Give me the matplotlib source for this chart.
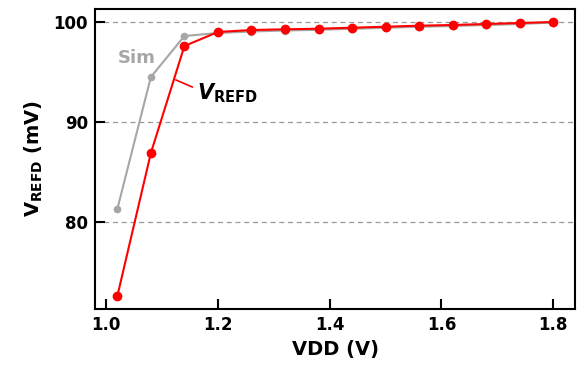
import numpy as np
import matplotlib.pyplot as plt

# data
vdd = [1.02, 1.08, 1.14, 1.20, 1.26, 1.32, 1.38, 1.44, 1.50, 1.56, 1.62, 1.68, 1.74, 1.80]
v_refd = [72.6, 86.9, 97.6, 99.0, 99.2, 99.27, 99.33, 99.43, 99.53, 99.63, 99.7, 99.8, 99.9, 100.0]
v_sim = [81.3, 94.5, 98.6, 98.9, 99.05, 99.15, 99.22, 99.32, 99.42, 99.52, 99.6, 99.7, 99.8, 99.95]

plt.rcParams['font.family'] = 'DejaVu Sans'
plt.rcParams['font.weight'] = 'bold'

fig = plt.figure(figsize=(5.81, 3.69), dpi=100)
ax = fig.add_axes([95 / 581, 1 - 309 / 369, 480 / 581, 300 / 369])

ax.plot(vdd, v_sim, color='#a6a6a6', lw=1.5, marker='o', ms=4.5, zorder=2)
ax.plot(vdd, v_refd, color='#ff0000', lw=1.5, marker='o', ms=6, zorder=3)

ax.set_xlim(0.98, 1.839)
ax.set_ylim(71.3, 101.3)
ax.set_xticks([1.0, 1.2, 1.4, 1.6, 1.8])
ax.set_yticks([80, 90, 100])
for y in [80, 90, 100]:
    ax.axhline(y, color='#999999', lw=0.9, ls=(0, (4, 3)), zorder=1)

ax.tick_params(direction='in', length=7, width=1.5, labelsize=12, pad=5)
for s in ax.spines.values():
    s.set_linewidth(1.5)

ax.set_xlabel('VDD (V)', fontsize=14, fontweight='bold', labelpad=4)
ax.set_ylabel(r'V$_{\mathbf{REFD}}$ (mV)', fontsize=14, fontweight='bold', labelpad=6)

ax.text(1.055, 96.4, 'Sim', color='#a6a6a6', fontsize=13, fontweight='bold', ha='center', va='center')
ax.plot([1.125, 1.154], [94.2, 93.5], color='#ff0000', lw=1.2)
ax.text(1.162, 92.9, r'$\boldsymbol{V}_{\mathbf{REFD}}$', fontsize=15, ha='left', va='center')

fig.savefig('out.png', dpi=100)
